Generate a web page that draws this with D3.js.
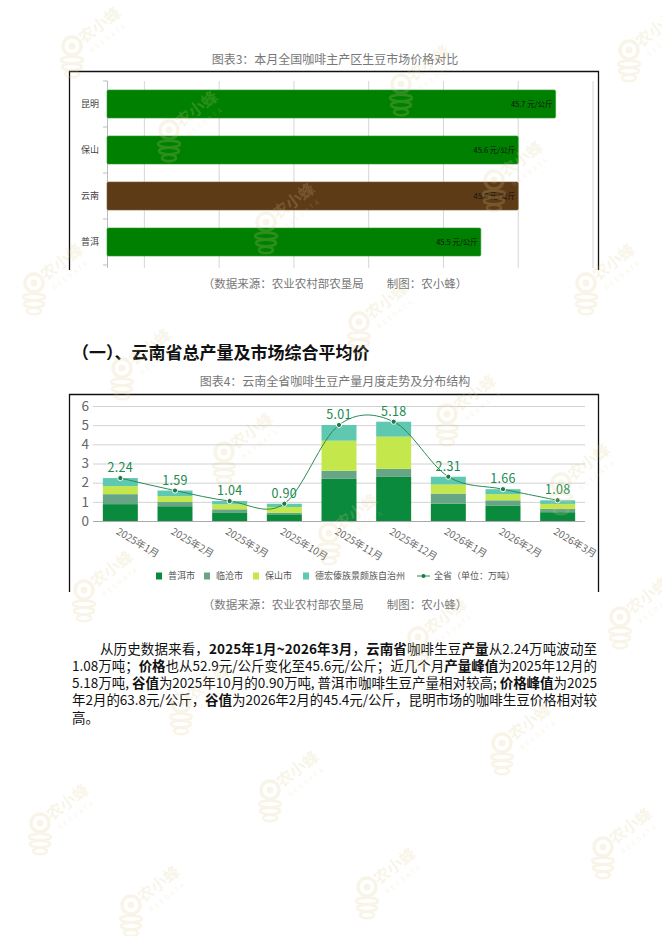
<!DOCTYPE html>
<html lang="zh">
<head>
<meta charset="UTF-8">
<title>云南咖啡生豆产量与价格</title>
<script src="https://d3js.org/d3.v7.min.js"></script>
<style>
    body { margin: 0; background: #fff; }
    svg { display: block; font-family: "Noto Sans CJK SC", "Noto Sans", sans-serif; }
</style>
</head>
<body>
<svg id="page" width="662" height="936"></svg>
<script>
// 图表3: 本月价格
const priceCities = ["昆明", "保山", "云南", "普洱"];
const priceValues = [45.7, 45.6, 45.6, 45.5];
const priceUnit = "元/公斤";
const priceTicks = [44.6, 44.8, 45.0, 45.2, 45.4, 45.6, 45.8];

// 图表4: 月度产量 (万吨)
const months = ["2025年1月", "2025年2月", "2025年3月", "2025年10月", "2025年11月",
                "2025年12月", "2026年1月", "2026年2月", "2026年3月"];
const seriesNames = ["普洱市", "临沧市", "保山市", "德宏傣族景颇族自治州"];
const puer    = [0.88, 0.77, 0.42, 0.35, 2.20, 2.30, 0.90, 0.79, 0.46];
const lincang = [0.52, 0.22, 0.19, 0.07, 0.42, 0.42, 0.53, 0.29, 0.17];
const baoshan = [0.42, 0.30, 0.26, 0.31, 1.57, 1.68, 0.47, 0.32, 0.26];
const dehong  = [0.42, 0.30, 0.17, 0.17, 0.82, 0.78, 0.41, 0.26, 0.19];
const provinceTotal = [2.24, 1.59, 1.04, 0.90, 5.01, 5.18, 2.31, 1.66, 1.08];
const outputTicks = [0, 1, 2, 3, 4, 5, 6];
const totalName = "全省（单位：万吨）";

// 正文
const paragraph = [
    [["从历史数据来看，", 0], ["2025年1月~2026年3月", 1], ["，", 0], ["云南省", 1], ["咖啡生豆", 0], ["产量", 1], ["从2.24万吨波动至", 0]],
    [["1.08万吨；", 0], ["价格", 1], ["也从52.9元/公斤变化至45.6元/公斤；近几个月", 0], ["产量峰值", 1], ["为2025年12月的", 0]],
    [["5.18万吨, ", 0], ["谷值", 1], ["为2025年10月的0.90万吨, 普洱市咖啡生豆产量相对较高; ", 0], ["价格峰值", 1], ["为2025", 0]],
    [["年2月的63.8元/公斤，", 0], ["谷值", 1], ["为2026年2月的45.4元/公斤，昆明市场的咖啡生豆价格相对较", 0]],
    [["高。", 0]]
];

const svg = d3.select("#page");
svg.append("rect").attr("width", 662).attr("height", 936).attr("fill", "#fff");

const source = "（数据来源：农业农村部农垦局\u3000\u3000制图：农小蜂）";

// ---------- 图表3 ----------
svg.append("text")
    .attr("x", 335).attr("y", 63.5)
    .attr("text-anchor", "middle")
    .attr("font-size", 12).attr("fill", "#777")
    .text("图表3：本月全国咖啡主产区生豆市场价格对比");

svg.append("path")
    .attr("d", "M69.5,270V71.5H598.5V270")
    .attr("fill", "none").attr("stroke", "#111").attr("stroke-width", 1.3);

const x3 = d3.scaleLinear().domain([44.5, 45.8]).range([107, 593]);
const y3 = d3.scaleBand().domain(priceCities).range([81, 265])
    .paddingInner(0.39).paddingOuter(0.195);

const c3 = svg.append("g");

c3.selectAll(".grid3")
    .data(priceTicks)
    .enter().append("line")
    .attr("x1", d => x3(d)).attr("x2", d => x3(d))
    .attr("y1", 81).attr("y2", 268)
    .attr("stroke", "#d6d6d6");

// category axis, ticks between bands
c3.append("line")
    .attr("x1", 107.5).attr("x2", 107.5).attr("y1", 81).attr("y2", 268)
    .attr("stroke", "#bbb");
const boundaries = priceCities.map(d => y3(d) - y3.step() * y3.paddingInner() / 2)
    .concat([y3.range()[1]]);
c3.selectAll(".tk3")
    .data(boundaries)
    .enter().append("line")
    .attr("x1", 103).attr("x2", 107.5)
    .attr("y1", d => d).attr("y2", d => d)
    .attr("stroke", "#bbb");

c3.append("g")
    .attr("transform", "translate(107,0)")
    .call(d3.axisLeft(y3).tickSize(0).tickPadding(8))
    .call(g => g.select(".domain").remove())
    .selectAll("text")
    .attr("font-size", 9).attr("fill", "#444")
    .attr("font-family", "'Noto Sans CJK SC', sans-serif");

c3.selectAll(".bar3")
    .data(priceCities)
    .enter().append("rect")
    .attr("x", x3.range()[0])
    .attr("y", d => y3(d))
    .attr("width", (d, i) => x3(priceValues[i]) - x3.range()[0])
    .attr("height", y3.bandwidth())
    .attr("rx", 1.5)
    .attr("fill", d => d === "云南" ? "#5e3b17" : "#008000")
    .attr("stroke", d => d === "云南" ? "#7a5a3a" : "#2f9a2f")
    .attr("stroke-width", 0.6);

c3.selectAll(".lbl3")
    .data(priceCities)
    .enter().append("text")
    .attr("x", (d, i) => x3(priceValues[i]) - 3)
    .attr("y", d => y3(d) + y3.bandwidth() / 2)
    .attr("dy", "0.35em")
    .attr("text-anchor", "end")
    .attr("font-size", 7.5).attr("fill", "#111")
    .text((d, i) => priceValues[i].toFixed(1) + " " + priceUnit);

svg.append("text")
    .attr("x", 335).attr("y", 287.5)
    .attr("text-anchor", "middle")
    .attr("font-size", 11.5).attr("fill", "#777")
    .text(source);

// ---------- 小标题 ----------
svg.append("text")
    .attr("x", 72).attr("y", 358.5)
    .attr("font-size", 17).attr("font-weight", "bold").attr("fill", "#111")
    .text("（一）、云南省总产量及市场综合平均价");

// ---------- 图表4 ----------
svg.append("text")
    .attr("x", 335).attr("y", 385.5)
    .attr("text-anchor", "middle")
    .attr("font-size", 12).attr("fill", "#777")
    .text("图表4：云南全省咖啡生豆产量月度走势及分布结构");

svg.append("path")
    .attr("d", "M69.5,592V394.5H598.5V592")
    .attr("fill", "none").attr("stroke", "#111").attr("stroke-width", 1.3);

const x4 = d3.scaleBand().domain(months).range([93, 585])
    .paddingInner(0.36).paddingOuter(0.18);
const y4 = d3.scaleLinear().domain([0, 6]).range([521, 406]);
const color4 = d3.scaleOrdinal().domain(seriesNames)
    .range(["#0a8a3c", "#66a585", "#c4e84c", "#5ec8b1"]);

const rows = months.map((m, i) => ({
    month: m,
    "普洱市": puer[i],
    "临沧市": lincang[i],
    "保山市": baoshan[i],
    "德宏傣族景颇族自治州": dehong[i]
}));
const stacked = d3.stack().keys(seriesNames)(rows);

const c4 = svg.append("g");

c4.selectAll(".grid4")
    .data(outputTicks)
    .enter().append("line")
    .attr("x1", 93).attr("x2", 585)
    .attr("y1", d => y4(d) + 0.5).attr("y2", d => y4(d) + 0.5)
    .attr("stroke", d => d === 0 ? "#aaa" : "#d2d2d2");

c4.append("g")
    .attr("transform", "translate(92,0)")
    .call(d3.axisLeft(y4).tickValues(outputTicks).tickFormat(d3.format("d"))
        .tickSize(0).tickPadding(3))
    .call(g => g.select(".domain").remove())
    .selectAll("text")
    .attr("font-size", 13.5).attr("fill", "#666")
    .attr("font-family", "'Noto Sans CJK SC', sans-serif");

c4.selectAll(".layer")
    .data(stacked)
    .enter().append("g")
    .attr("fill", d => color4(d.key))
    .selectAll("rect")
    .data(d => d)
    .enter().append("rect")
    .attr("x", d => x4(d.data.month))
    .attr("y", d => y4(d[1]))
    .attr("width", x4.bandwidth())
    .attr("height", d => y4(d[0]) - y4(d[1]));

const cx = m => x4(m) + x4.bandwidth() / 2;

c4.append("path")
    .datum(months)
    .attr("fill", "none")
    .attr("stroke", "#2a8a55")
    .attr("stroke-width", 1)
    .attr("d", d3.line()
        .x(m => cx(m))
        .y((m, i) => y4(provinceTotal[i]))
        .curve(d3.curveCatmullRom.alpha(0)));

c4.selectAll(".pt")
    .data(months)
    .enter().append("circle")
    .attr("cx", m => cx(m))
    .attr("cy", (m, i) => y4(provinceTotal[i]))
    .attr("r", 2.6)
    .attr("fill", "#1d7a45")
    .attr("stroke", "#fff").attr("stroke-width", 1);

c4.selectAll(".val")
    .data(months)
    .enter().append("text")
    .attr("x", m => cx(m))
    .attr("y", (m, i) => y4(provinceTotal[i]) - 6)
    .attr("text-anchor", "middle")
    .attr("font-size", 12.5).attr("fill", "#20894f")
    .attr("letter-spacing", 0.3)
    .text((m, i) => provinceTotal[i].toFixed(2));

c4.selectAll(".xl")
    .data(months)
    .enter().append("text")
    .attr("transform", m => `translate(${cx(m) - 1},527) rotate(31)`)
    .attr("dy", "0.75em")
    .attr("font-size", 10).attr("fill", "#666")
    .text(m => m);

// legend
const legendX = [156, 204, 253, 303];
const lg = c4.append("g").attr("font-size", 9).attr("fill", "#555");
seriesNames.forEach((name, i) => {
    lg.append("rect")
        .attr("x", legendX[i]).attr("y", 572.5)
        .attr("width", 6).attr("height", 7)
        .attr("fill", color4(name));
    lg.append("text")
        .attr("x", legendX[i] + 12).attr("y", 576).attr("dy", "0.35em")
        .text(name);
});
lg.append("line")
    .attr("x1", 417).attr("x2", 430).attr("y1", 576).attr("y2", 576)
    .attr("stroke", "#2a8a55").attr("stroke-width", 1);
lg.append("circle")
    .attr("cx", 423.5).attr("cy", 576).attr("r", 2)
    .attr("fill", "#1d7a45");
lg.append("text")
    .attr("x", 434).attr("y", 576).attr("dy", "0.35em")
    .text(totalName);

svg.append("text")
    .attr("x", 335).attr("y", 609)
    .attr("text-anchor", "middle")
    .attr("font-size", 11.5).attr("fill", "#777")
    .text(source);

// ---------- 正文: one text, one tspan per line ----------
const para = svg.append("text").attr("font-size", 13.5).attr("fill", "#111");
paragraph.forEach((line, i) => {
    const left = i === 0 ? 100 : 72;
    const row = para.append("tspan")
        .attr("x", left)
        .attr("y", 653.5 + i * 17.3);
    if (i < paragraph.length - 1) {
        row.attr("textLength", 597 - left).attr("lengthAdjust", "spacing");
    }
    line.forEach(seg => {
        row.append("tspan")
            .attr("font-weight", seg[1] ? "bold" : "normal")
            .text(seg[0]);
    });
});

// ---------- 水印 ----------
const marks = [[72, 46], [629, 50], [401, 84], [169, 130], [494, 180], [266, 222],
    [34, 283], [586, 283], [359, 322], [122, 368], [447, 414], [224, 452], [561, 483],
    [329, 533], [84, 590], [620, 617], [418, 637], [181, 703], [502, 743], [270, 790],
    [40, 823], [603, 847], [367, 887], [131, 905]];
const wmColor = "#dccb8e";
const wm = svg.append("g").attr("fill", wmColor).attr("opacity", 0.2);
marks.forEach(([mx, my]) => {
    const g = wm.append("g").attr("transform", `translate(${mx},${my})`);
    g.append("circle").attr("r", 9).attr("fill", "none")
        .attr("stroke", wmColor).attr("stroke-width", 3.5);
    g.append("circle").attr("r", 3.5);
    [[14, 11], [21, 10], [28, 7]].forEach(([dy, rx]) => {
        g.append("ellipse").attr("cy", dy).attr("rx", rx).attr("ry", 3.2)
            .attr("fill", "none").attr("stroke", wmColor).attr("stroke-width", 2.5);
    });
    g.append("text")
        .attr("transform", "translate(12,-2) rotate(-37)")
        .attr("font-size", 16).attr("font-weight", "bold").text("农小蜂");
    g.append("text")
        .attr("transform", "translate(20,7) rotate(-37)")
        .attr("font-size", 6.5).attr("letter-spacing", 2.5).text("BEEDATA");
});
</script>
</body>
</html>
